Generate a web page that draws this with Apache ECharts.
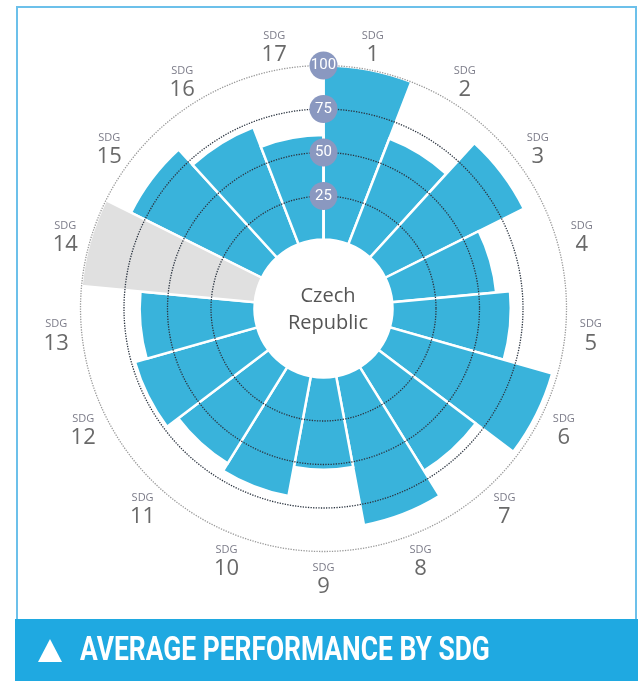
<!DOCTYPE html>
<html>
<head>
<meta charset="utf-8">
<script src="https://cdn.jsdelivr.net/npm/echarts@6/dist/echarts.min.js"></script>
<style>
html, body { margin: 0; padding: 0; background: #fff; }
#chart { width: 638px; height: 681px; }
</style>
</head>
<body>
<div id="chart"></div>
<script>
// categories and values
var sdgNames = ['1', '2', '3', '4', '5', '6', '7', '8', '9', '10', '11', '12', '13', '14', '15', '16', '17'];
var scores = [100, 65, 89, 60, 68, 97, 70, 87, 53, 70, 65, 73, 66, null, 84, 72, 60];
// SDG 14 has no score, drawn in grey at full length
var noData = [null, null, null, null, null, null, null, null, null, null, null, null, null, 100, null, null, null];
var radiusTicks = [0, 25, 50, 75, 100];

var chart = echarts.init(document.getElementById('chart'));

// label ring: one point per SDG on the outer edge of a second polar
var labelPoints = [];
for (var i = 0; i < sdgNames.length; i++) {
	labelPoints.push([1, i]);
}

var option = {
	animation: false,
	title: {
		text: 'Czech\nRepublic',
		left: 323,
		top: 305,
		textAlign: 'center',
		textVerticalAlign: 'middle',
		textStyle: {
			color: '#555',
			fontFamily: 'Open Sans',
			fontWeight: 'normal',
			fontSize: 20,
			lineHeight: 27
		}
	},
	graphic: [{
		type: 'rect',
		shape: { x: 17, y: 7, width: 619, height: 613 },
		style: { fill: 'none', stroke: '#6cc0ea', lineWidth: 2 },
		z: -10
	}, {
		type: 'rect',
		shape: { x: 15, y: 619, width: 623, height: 62 },
		style: { fill: '#1fa9e1' },
		z: -5
	}, {
		type: 'polygon',
		shape: { points: [[50, 639], [62, 662], [38, 662]] },
		style: { fill: '#fff' }
	}, {
		// banner caption, squeezed to look like a condensed face
		type: 'text',
		x: 80,
		y: 652,
		scaleX: 0.8,
		style: {
			text: 'AVERAGE PERFORMANCE BY SDG',
			fill: '#fff',
			font: 'bold 33px Roboto',
			verticalAlign: 'middle'
		}
	}],
	polar: [{
		center: [323.5, 308.5],
		radius: [69, 243]
	}, {
		center: [323.5, 308.5],
		radius: [0, 268.5]
	}],
	angleAxis: [{
		polarIndex: 0,
		type: 'category',
		data: sdgNames,
		startAngle: 90,
		clockwise: true,
		axisLine: { show: false },
		axisTick: { show: false },
		splitLine: { show: false },
		axisLabel: { show: false }
	}, {
		polarIndex: 1,
		type: 'category',
		data: sdgNames,
		startAngle: 90,
		clockwise: true,
		axisLine: { show: false },
		axisTick: { show: false },
		splitLine: { show: false },
		axisLabel: { show: false }
	}],
	radiusAxis: [{
		polarIndex: 0,
		min: radiusTicks[0],
		max: radiusTicks[radiusTicks.length - 1],
		interval: 25,
		z: 10,
		axisLine: { show: true, lineStyle: { color: '#fff', width: 2.5 } },
		axisTick: { show: false },
		splitLine: {
			show: true,
			lineStyle: {
				type: 'dotted',
				width: 1.3,
				color: ['rgba(0,0,0,0)', '#2b3440', '#2b3440', '#2b3440', '#9a9a9a']
			}
		},
		axisLabel: {
			showMinLabel: false,
			margin: 0,
			align: 'center',
			verticalAlign: 'middle',
			formatter: function (v) {
				return '{c|' + v + '}';
			},
			rich: {
				c: {
					backgroundColor: '#8a98c0',
					borderRadius: 14,
					width: 28,
					height: 28,
					lineHeight: 28,
					align: 'center',
					color: '#fff',
					fontSize: 15,
					fontFamily: 'Roboto'
				}
			}
		}
	}, {
		polarIndex: 1,
		min: 0,
		max: 1,
		show: false
	}],
	series: [{
		name: 'Score',
		type: 'bar',
		coordinateSystem: 'polar',
		polarIndex: 0,
		stack: 'sdg',
		barCategoryGap: '0%',
		data: scores,
		itemStyle: { color: '#39b3db', borderColor: '#fff', borderWidth: 2.5 }
	}, {
		name: 'No data',
		type: 'bar',
		coordinateSystem: 'polar',
		polarIndex: 0,
		stack: 'sdg',
		barCategoryGap: '0%',
		data: noData,
		itemStyle: { color: '#e0e0e0', borderColor: '#fff', borderWidth: 2.5 }
	}, {
		name: 'Labels',
		type: 'scatter',
		coordinateSystem: 'polar',
		polarIndex: 1,
		silent: true,
		symbolSize: 1,
		itemStyle: { color: 'rgba(0,0,0,0)' },
		data: labelPoints,
		label: {
			show: true,
			position: 'inside',
			offset: [0, 3],
			formatter: function (p) {
				return '{s|SDG}\n{n|' + sdgNames[p.dataIndex] + '}';
			},
			rich: {
				s: { fontSize: 11, color: '#5a5a6a', fontFamily: 'Open Sans', align: 'center', lineHeight: 14 },
				n: { fontSize: 22, color: '#444', fontFamily: 'Open Sans', align: 'center', lineHeight: 24 }
			}
		}
	}]
};

chart.setOption(option);
</script>
</body>
</html>
